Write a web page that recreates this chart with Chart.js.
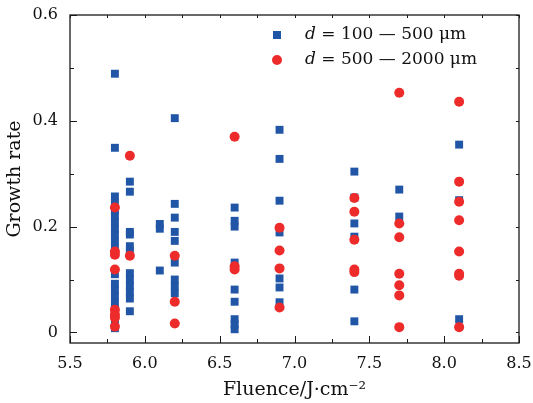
<!DOCTYPE html>
<html>
<head>
<meta charset="utf-8" />
<title>Growth rate vs fluence</title>
<script src="https://cdn.jsdelivr.net/npm/chart.js@4.4.0/dist/chart.umd.min.js"></script>
<style>
  body { margin: 0; background: #fff; }
  #wrap { width: 533px; height: 403px; }
</style>
</head>
<body>
<div id="wrap"><canvas id="chart" width="533" height="403"></canvas></div>
<script>
// fluence levels (J/cm^2) where the samples were measured
var fluenceLevels = [5.8, 5.9, 6.1, 6.2, 6.6, 6.9, 7.4, 7.7, 8.1];

// d = 100-500 um, growth rates per fluence level
var smallRates = [
  [0.489, 0.349, 0.257, 0.245, 0.232, 0.220, 0.208, 0.196, 0.184, 0.172, 0.160, 0.148, 0.110, 0.092, 0.080, 0.068, 0.056, 0.044, 0.032, 0.020, 0.008],
  [0.285, 0.266, 0.190, 0.185, 0.163, 0.155, 0.112, 0.100, 0.088, 0.076, 0.064, 0.040],
  [0.205, 0.196, 0.117],
  [0.405, 0.243, 0.217, 0.190, 0.173, 0.132, 0.100, 0.087, 0.074],
  [0.236, 0.211, 0.200, 0.132, 0.081, 0.058, 0.025, 0.015, 0.006],
  [0.383, 0.328, 0.249, 0.189, 0.102, 0.085, 0.057],
  [0.304, 0.255, 0.206, 0.181, 0.081, 0.021],
  [0.270, 0.219],
  [0.355, 0.250, 0.025]
];

// d = 500-2000 um
var largeRates = [
  [0.236, 0.153, 0.147, 0.119, 0.043, 0.034, 0.028, 0.011],
  [0.334, 0.145],
  [],
  [0.145, 0.058, 0.017],
  [0.370, 0.125, 0.119],
  [0.198, 0.155, 0.121, 0.047],
  [0.254, 0.228, 0.175, 0.119, 0.114],
  [0.453, 0.206, 0.180, 0.111, 0.089, 0.070, 0.010],
  [0.436, 0.285, 0.247, 0.212, 0.153, 0.111, 0.107, 0.010]
];

var xTicks = [5.5, 6.0, 6.5, 7.0, 7.5, 8.0, 8.5];
var yTicks = [0, 0.2, 0.4, 0.6];
var legendText = ['= 100 \u2014 500 \u03bcm', '= 500 \u2014 2000 \u03bcm'];

var blue = '#2156a6';
var red = '#ee2b2b';
var serif = '"DejaVu Serif", "Liberation Serif", serif';

function toPoints(rates) {
  var pts = [];
  for (var i = 0; i < fluenceLevels.length; i++) {
    for (var j = 0; j < rates[i].length; j++) {
      pts.push({ x: fluenceLevels[i], y: rates[i][j] });
    }
  }
  return pts;
}

// box, inward ticks on all four sides and the legend inside the plot
var framePlugin = {
  id: 'frame',
  afterDraw: function (chart) {
    var ctx = chart.ctx, a = chart.chartArea;
    var xs = chart.scales.x, ys = chart.scales.y;
    ctx.save();
    ctx.strokeStyle = '#1a1a1a';
    ctx.lineWidth = 1.3;
    ctx.strokeRect(a.left, a.top, a.right - a.left, a.bottom - a.top);

    ctx.lineWidth = 1;
    ctx.beginPath();
    for (var i = 0; i < xTicks.length * 2 - 1; i++) {
      var v = xTicks[0] + i * 0.25;
      var px = Math.round(xs.getPixelForValue(v)) + 0.5;
      var len = i % 2 === 0 ? 7 : 4;
      ctx.moveTo(px, a.bottom); ctx.lineTo(px, a.bottom - len);
      ctx.moveTo(px, a.top); ctx.lineTo(px, a.top + 3);
    }
    for (var k = 0; k <= 6; k++) {
      var vy = k * 0.1;
      var py = Math.round(ys.getPixelForValue(vy)) + 0.5;
      var l2 = k % 2 === 0 ? 7 : 4;
      ctx.moveTo(a.left, py); ctx.lineTo(a.left + l2, py);
      ctx.moveTo(a.right, py); ctx.lineTo(a.right - 3, py);
    }
    ctx.stroke();

    // legend
    var lx = 277, ly = [35, 60], tx = 305;
    ctx.fillStyle = blue;
    ctx.fillRect(lx - 4, ly[0] - 4, 8, 8);
    ctx.fillStyle = red;
    ctx.beginPath();
    ctx.arc(lx, ly[1], 5, 0, Math.PI * 2);
    ctx.fill();
    ctx.fillStyle = '#111';
    ctx.textBaseline = 'middle';
    for (var n = 0; n < 2; n++) {
      ctx.font = 'italic 17px ' + serif;
      ctx.fillText('d', tx, ly[n]);
      var dw = ctx.measureText('d ').width;
      ctx.font = '17px ' + serif;
      ctx.fillText(legendText[n], tx + dw, ly[n]);
    }
    ctx.restore();
  }
};

var chart = new Chart(document.getElementById('chart'), {
  type: 'scatter',
  data: {
    datasets: [
      {
        label: 'd = 100-500 um',
        data: toPoints(smallRates),
        pointStyle: 'rect',
        pointRadius: 5.6,
        pointHoverRadius: 5.6,
        backgroundColor: blue,
        borderColor: blue,
        borderWidth: 0,
        order: 1
      },
      {
        label: 'd = 500-2000 um',
        data: toPoints(largeRates),
        pointStyle: 'circle',
        pointRadius: 5,
        pointHoverRadius: 5,
        backgroundColor: red,
        borderColor: red,
        borderWidth: 0,
        order: 0
      }
    ]
  },
  options: {
    responsive: false,
    animation: false,
    events: [],
    layout: { padding: { top: 15, right: 14, left: 0, bottom: 0 } },
    plugins: { legend: { display: false }, tooltip: { enabled: false } },
    scales: {
      x: {
        type: 'linear',
        min: 5.5,
        max: 8.5,
        grid: { display: false, drawTicks: false },
        border: { display: false },
        afterBuildTicks: function (s) { s.ticks = xTicks.map(function (v) { return { value: v }; }); },
        afterFit: function (s) {
          s.height = 60;
          s.paddingLeft = 0; s.paddingRight = 0;
        },
        ticks: {
          padding: 11,
          color: '#111',
          font: { family: serif, size: 16 },
          callback: function (v) { return v.toFixed(1); }
        },
        title: {
          display: true,
          text: 'Fluence/J\u00b7cm\u207b\u00b2',
          color: '#111',
          font: { family: serif, size: 19 },
          padding: { top: 2, bottom: 2 }
        }
      },
      y: {
        min: -0.02,
        max: 0.6,
        grid: { display: false, drawTicks: false },
        border: { display: false },
        afterBuildTicks: function (s) { s.ticks = yTicks.map(function (v) { return { value: v }; }); },
        afterFit: function (s) {
          s.width = 70;
          s.paddingTop = 0; s.paddingBottom = 0;
        },
        ticks: {
          padding: 12,
          color: '#111',
          font: { family: serif, size: 16 },
          callback: function (v) { return v === 0 ? '0' : v.toFixed(1); }
        },
        title: {
          display: true,
          text: 'Growth rate',
          color: '#111',
          font: { family: serif, size: 19 },
          padding: { top: 4, bottom: 0 }
        }
      }
    }
  },
  plugins: [framePlugin]
});
</script>
</body>
</html>
